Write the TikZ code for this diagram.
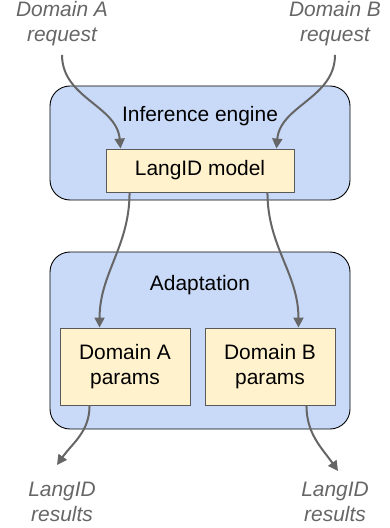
\documentclass[tikz,border=0pt]{standalone}
\usepackage{fontspec}
\setmainfont{Liberation Sans}
\usetikzlibrary{arrows.meta}
\definecolor{outerfill}{HTML}{C9DAF8}
\definecolor{innerfill}{HTML}{FFF2CC}
\definecolor{innerdraw}{HTML}{595959}
\definecolor{arrowcol}{HTML}{666666}
\tikzset{
  outerbox/.style={draw=black, line width=0.9bp, fill=outerfill, rounded corners=20bp, inner sep=0},
  innerbox/.style={draw=innerdraw, line width=0.9bp, fill=innerfill, inner sep=0, align=center, font=\fontsize{21}{25}\selectfont},
  title/.style={inner sep=0, font=\fontsize{21}{25}\selectfont},
  extlabel/.style={inner sep=0, align=center, text=arrowcol, font=\fontsize{21}{25}\selectfont\itshape},
  arr/.style={draw=arrowcol, line width=2bp, -{Triangle[length=10bp,width=10bp]}},
}
\begin{document}
\begin{tikzpicture}[x=1bp,y=-1bp]
\useasboundingbox (0,0) rectangle (389,528);
% inference engine
\node[outerbox, minimum width=300bp, minimum height=114bp] (eng) at (200,143) {};
\node[title] (engt) at (200,116) {Inference engine};
\node[innerbox, minimum width=188bp, minimum height=43bp] (model) at (200,170.5) {LangID model};
% adaptation
\node[outerbox, minimum width=300bp, minimum height=177bp] (adapt) at (200,340.5) {};
\node[title] (adaptt) at (200,285) {Adaptation};
\node[innerbox, minimum width=130bp, minimum height=77bp] (pA) at (125,366.5) {Domain A\\params};
\node[innerbox, minimum width=130bp, minimum height=77bp] (pB) at (270,366.5) {Domain B\\params};
% external labels
\node[extlabel, anchor=north] (lA) at (62,1) {Domain A\\request};
\node[extlabel, anchor=north] (lB) at (335,1) {Domain B\\request};
\node[extlabel, anchor=north] (rA) at (62,482) {LangID\\results};
\node[extlabel, anchor=north] (rB) at (335,482) {LangID\\results};
\coordinate (rAin) at (57,465);
\coordinate (rBin) at (338,471);
% arrows
\draw[arr] ([yshift=-9bp]lA.south) to[out=-90,in=95] ([xshift=15bp]model.north west);
\draw[arr] ([yshift=-9bp]lB.south) to[out=-90,in=85] ([xshift=-18bp]model.north east);
\draw[arr] ([xshift=24bp]model.south west) to[out=-90,in=90] ([xshift=40bp]pA.north west);
\draw[arr] ([xshift=-27bp]model.south east) to[out=-90,in=90] ([xshift=-37bp]pB.north east);
\draw[arr] ([xshift=30bp]pA.south west) to[out=-90,in=55] (rAin);
\draw[arr] ([xshift=-29bp]pB.south east) to[out=-90,in=125] (rBin);
\end{tikzpicture}
\end{document}
